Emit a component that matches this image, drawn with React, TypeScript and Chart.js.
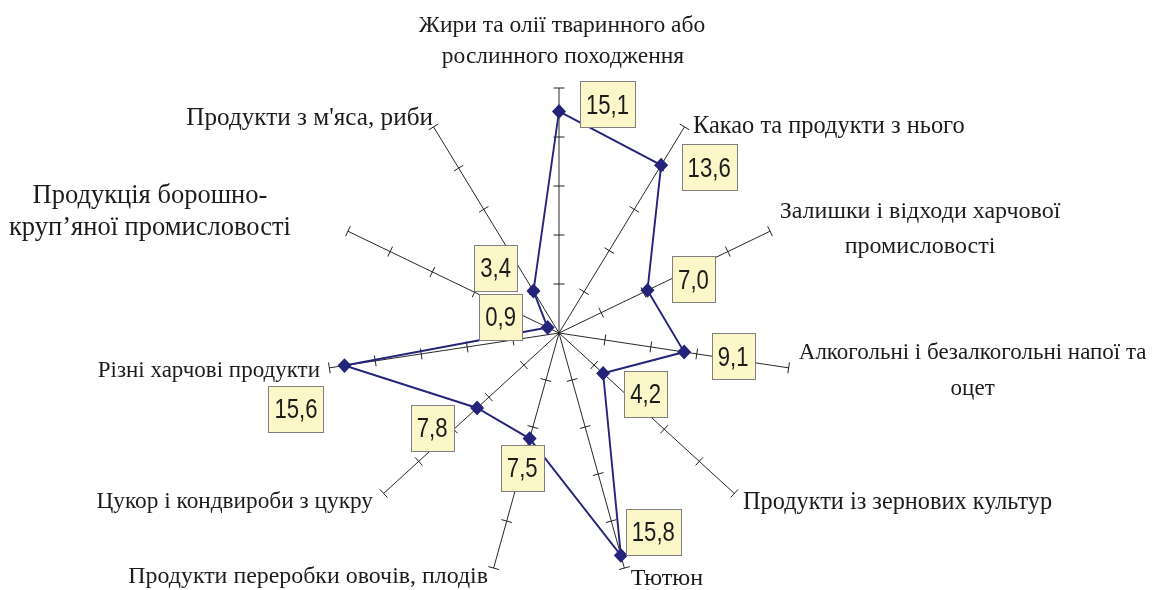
import { useEffect, useRef } from "react";
import { Chart, registerables } from "chart.js";

Chart.register(...registerables);

// ---- data ----
const categories: string[][] = [
  ["Жири та олії тваринного або", "рослинного походження"],
  ["Какао та продукти з нього"],
  ["Залишки і відходи харчової", "промисловості"],
  ["Алкогольні і безалкогольні напої та", "оцет"],
  ["Продукти із зернових культур"],
  ["Тютюн"],
  ["Продукти переробки овочів, плодів"],
  ["Цукор і кондвироби з цукру"],
  ["Різні харчові продукти"],
  ["Продукція борошно-", "круп’яної промисловості"],
  ["Продукти з м'яса, риби"],
];
const values: number[] = [15.1, 13.6, 7.0, 9.1, 4.2, 15.8, 7.5, 7.8, 15.6, 0.9, 3.4];
const valueLabels: string[] = values.map((v) => v.toFixed(1).replace(".", ","));
const AXIS_MAX = 16.7;
const TICK_COUNT = 5;

// ---- layout / style ----
const X_SQUEEZE = 0.947;
const SERIES_COLOR = "#24247A";
const AXIS_COLOR = "#222222";
const TEXT_COLOR = "#1c1c1c";
const BOX_FILL = "#FBF7C9";
const BOX_BORDER = "#808080";
const LABEL_FAMILY = "'Liberation Serif', 'Times New Roman', serif";
const LABEL_SIZES = [23.5, 24.4, 24, 23, 24.3, 24, 23.9, 23.3, 23, 26.5, 25.2];
const VALUE_FONT = "27px 'Liberation Sans', Arial, sans-serif";
const VALUE_NARROW = 0.82;

type Align = "left" | "right" | "center";
const LABEL_LAYOUT: { align: Align; dx: number[]; dy: number[] }[] = [
  { align: "center", dx: [3, 4], dy: [-56, -25] },
  { align: "left", dx: [8.6], dy: [6] },
  { align: "center", dx: [150, 150], dy: [-13, 22] },
  { align: "center", dx: [184, 184], dy: [-9, 27] },
  { align: "left", dx: [8.7], dy: [15.6] },
  { align: "left", dx: [6.3], dy: [17] },
  { align: "right", dx: [-5.6], dy: [15] },
  { align: "right", dx: [-10.7], dy: [14.6] },
  { align: "right", dx: [-9.4], dy: [8.8] },
  { align: "center", dx: [-198, -198], dy: [-28, 4] },
  { align: "right", dx: [-0.6], dy: [-2] },
];
const BOX_OFFSETS: [number, number][] = [
  [48.5, -7], [48, 2.3], [46, -11], [49, 4.4], [42.5, 20.3], [32.5, -23.7],
  [-7.4, 29], [-45, 19.7], [-48.5, 43], [-47, -11], [-37.8, -23.5],
];

const radarDecor = {
  id: "radarDecor",
  beforeDraw(chart: any) {
    const s = chart.scales.r;
    const ctx = chart.ctx;
    ctx.save();
    ctx.translate(s.xCenter, 0);
    ctx.scale(X_SQUEEZE, 1);
    ctx.translate(-s.xCenter, 0);
  },
  beforeDatasetsDraw(chart: any) {
    const s = chart.scales.r;
    const ctx = chart.ctx;
    const dpr = chart.currentDevicePixelRatio || 1;
    const cx = s.xCenter;
    const cy = s.yCenter;
    const dist = s.getDistanceFromCenterForValue(AXIS_MAX);
    ctx.save();
    ctx.setTransform(dpr, 0, 0, dpr, 0, 0);
    ctx.strokeStyle = AXIS_COLOR;
    ctx.lineWidth = 1;
    for (let i = 0; i < categories.length; i++) {
      const p = s.getPointPosition(i, dist);
      const ex = cx + (p.x - cx) * X_SQUEEZE;
      const ey = p.y;
      const len = Math.hypot(ex - cx, ey - cy);
      const ux = (ex - cx) / len;
      const uy = (ey - cy) / len;
      const px = -uy;
      const py = ux;
      for (let k = 1; k <= TICK_COUNT; k++) {
        const tx = cx + ux * len * (k / TICK_COUNT);
        const ty = cy + uy * len * (k / TICK_COUNT);
        ctx.beginPath();
        ctx.moveTo(tx - px * 5.5, ty - py * 5.5);
        ctx.lineTo(tx + px * 5.5, ty + py * 5.5);
        ctx.stroke();
      }
    }
    ctx.restore();
  },
  afterDatasetsDraw(chart: any) {
    chart.ctx.restore();
  },
  afterDraw(chart: any) {
    const s = chart.scales.r;
    const ctx = chart.ctx;
    const cx = s.xCenter;
    const dist = s.getDistanceFromCenterForValue(AXIS_MAX);
    ctx.save();
    // axis labels
    ctx.fillStyle = TEXT_COLOR;
    ctx.textBaseline = "alphabetic";
    categories.forEach((lines, i) => {
      const p = s.getPointPosition(i, dist);
      const ex = cx + (p.x - cx) * X_SQUEEZE;
      const ey = p.y;
      const lay = LABEL_LAYOUT[i];
      ctx.font = `${LABEL_SIZES[i]}px ${LABEL_FAMILY}`;
      ctx.textAlign = lay.align;
      lines.forEach((line, j) => {
        ctx.fillText(line, ex + lay.dx[j], ey + lay.dy[j]);
      });
    });
    // value boxes
    const meta = chart.getDatasetMeta(0);
    ctx.font = VALUE_FONT;
    meta.data.forEach((el: any, i: number) => {
      const px = cx + (el.x - cx) * X_SQUEEZE;
      const py = el.y;
      const bx = px + BOX_OFFSETS[i][0];
      const by = py + BOX_OFFSETS[i][1];
      const tw = ctx.measureText(valueLabels[i]).width * VALUE_NARROW;
      const w = Math.round(tw + 12);
      const h = 46;
      const left = Math.round(bx - w / 2) + 0.5;
      const top = Math.round(by - h / 2) + 0.5;
      ctx.fillStyle = BOX_FILL;
      ctx.fillRect(left, top, w, h);
      ctx.strokeStyle = BOX_BORDER;
      ctx.lineWidth = 1;
      ctx.strokeRect(left, top, w, h);
      ctx.save();
      ctx.translate(bx, by + 9.6);
      ctx.scale(VALUE_NARROW, 1);
      ctx.fillStyle = TEXT_COLOR;
      ctx.textAlign = "center";
      ctx.textBaseline = "alphabetic";
      ctx.fillText(valueLabels[i], 0, 0);
      ctx.restore();
    });
    ctx.restore();
  },
};

export default function App() {
  const canvasRef = useRef<HTMLCanvasElement | null>(null);

  useEffect(() => {
    if (!canvasRef.current) return;
    const chart = new Chart(canvasRef.current, {
      type: "radar",
      data: {
        labels: categories.map((c) => c.join(" ")),
        datasets: [
          {
            data: values,
            borderColor: SERIES_COLOR,
            backgroundColor: SERIES_COLOR,
            pointBackgroundColor: SERIES_COLOR,
            pointBorderColor: SERIES_COLOR,
            pointStyle: "rectRot",
            pointRadius: 6,
            pointHoverRadius: 6,
            borderWidth: 2,
            fill: false,
            tension: 0,
          },
        ],
      },
      options: {
        animation: false,
        responsive: false,
        layout: { padding: { left: 314, right: 362, top: 88, bottom: 12 } },
        plugins: {
          legend: { display: false },
          tooltip: { enabled: false },
        },
        scales: {
          r: {
            min: 0,
            max: AXIS_MAX,
            ticks: { display: false },
            grid: { display: false },
            angleLines: { display: true, color: AXIS_COLOR, lineWidth: 1 },
            pointLabels: { display: false },
          },
        },
      },
      plugins: [radarDecor],
    });
    return () => chart.destroy();
  }, []);

  return (
    <div style={{ position: "fixed", left: 0, top: 0, width: 1166, height: 590, background: "#fff" }}>
      <canvas ref={canvasRef} width={1166} height={590} style={{ display: "block" }} />
    </div>
  );
}
